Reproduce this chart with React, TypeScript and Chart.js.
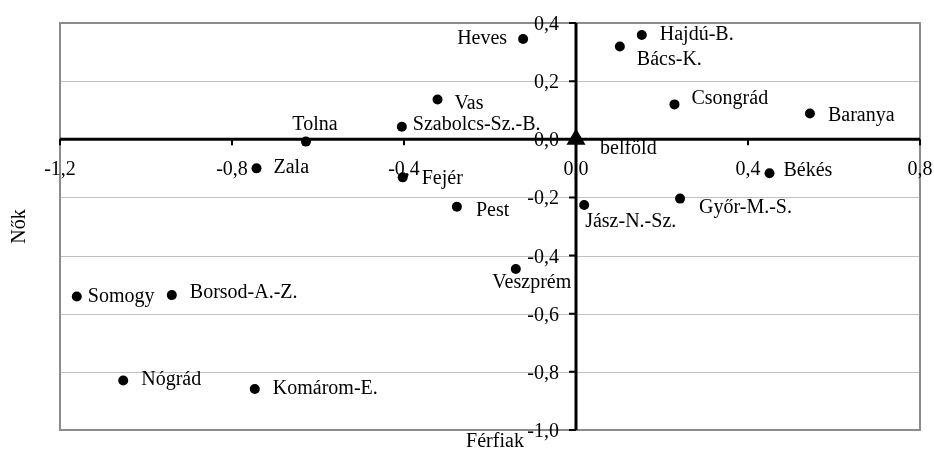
import React, { useEffect, useRef } from 'react';
import { Chart, registerables } from 'chart.js';

Chart.register(...registerables);

// ---- data ----
const regions = [
  'Heves', 'Hajdú-B.', 'Bács-K.', 'Csongrád', 'Baranya', 'Vas', 'Szabolcs-Sz.-B.',
  'Tolna', 'Zala', 'Fejér', 'Pest', 'Veszprém', 'Jász-N.-Sz.', 'Győr-M.-S.', 'Békés',
  'Somogy', 'Borsod-A.-Z.', 'Nógrád', 'Komárom-E.',
];
const ferfiak = [
  -0.123, 0.153, 0.102, 0.229, 0.544, -0.322, -0.405,
  -0.628, -0.743, -0.403, -0.277, -0.140, 0.019, 0.242, 0.450,
  -1.161, -0.940, -1.053, -0.747,
];
const nok = [
  0.345, 0.359, 0.319, 0.120, 0.089, 0.137, 0.043,
  -0.008, -0.100, -0.131, -0.232, -0.446, -0.226, -0.204, -0.117,
  -0.541, -0.536, -0.830, -0.859,
];
const nationalLabel = 'belföld';
const nationalX = [0];
const nationalY = [0];

const xTicks = [-1.2, -0.8, -0.4, 0, 0.4, 0.8];
const yTicks = [0.4, 0.2, 0, -0.2, -0.4, -0.6, -0.8, -1.0];
const xTitle = 'Férfiak';
const yTitle = 'Nők';

// label placement relative to the marker: [dx, dy, align]
const labelPlacement: [number, number, CanvasTextAlign][] = [
  [-16, 0, 'right'], [18, 0, 'left'], [17, 13, 'left'], [17, -6, 'left'], [18, 2, 'left'],
  [17, 4, 'left'], [11, -2, 'left'], [9, -17, 'center'], [17, -1, 'left'], [19, 1, 'left'],
  [19, 4, 'left'], [16, 14, 'center'], [1, 17, 'left'], [19, 9, 'left'], [14, -3, 'left'],
  [11, 0, 'left'], [18, -2, 'left'], [18, -1, 'left'], [18, 0, 'left'],
];
const nationalPlacement: [number, number, CanvasTextAlign] = [24, 9, 'left'];

const FONT = '"Liberation Serif", "Times New Roman", serif';
const fmt = (v: number) => v.toFixed(1).replace('.', ',').replace('-0,0', '0,0');

const axesPlugin = {
  id: 'axesPlugin',
  beforeDatasetsDraw(chart: any) {
    const { ctx, chartArea: a, scales } = chart;
    const xs = scales.x;
    const ys = scales.y;
    ctx.save();
    // grid lines
    ctx.strokeStyle = '#c0c0c0';
    ctx.lineWidth = 1;
    yTicks.forEach((v) => {
      const py = Math.round(ys.getPixelForValue(v)) + 0.5;
      ctx.beginPath();
      ctx.moveTo(a.left, py);
      ctx.lineTo(a.right, py);
      ctx.stroke();
    });
    // plot border
    ctx.strokeStyle = '#8c8c8c';
    ctx.lineWidth = 2;
    ctx.strokeRect(a.left, a.top, a.right - a.left, a.bottom - a.top);
    // zero axes
    const x0 = xs.getPixelForValue(0);
    const y0 = ys.getPixelForValue(0);
    ctx.strokeStyle = '#000';
    ctx.lineWidth = 3;
    ctx.beginPath();
    ctx.moveTo(a.left, y0);
    ctx.lineTo(a.right, y0);
    ctx.moveTo(x0, a.top);
    ctx.lineTo(x0, a.bottom);
    ctx.stroke();
    // tick marks
    ctx.lineWidth = 2;
    ctx.beginPath();
    xTicks.forEach((v) => {
      const px = xs.getPixelForValue(v);
      ctx.moveTo(px, y0);
      ctx.lineTo(px, y0 + 6);
    });
    yTicks.forEach((v) => {
      const py = ys.getPixelForValue(v);
      ctx.moveTo(x0, py);
      ctx.lineTo(x0 - 7, py);
    });
    ctx.stroke();
    ctx.restore();
  },
  afterDatasetsDraw(chart: any) {
    const { ctx, chartArea: a, scales } = chart;
    const xs = scales.x;
    const ys = scales.y;
    const x0 = xs.getPixelForValue(0);
    const y0 = ys.getPixelForValue(0);
    ctx.save();
    ctx.fillStyle = '#000';
    // tick labels
    ctx.font = `20px ${FONT}`;
    ctx.textBaseline = 'alphabetic';
    ctx.textAlign = 'center';
    xTicks.forEach((v) => {
      ctx.fillText(fmt(v), xs.getPixelForValue(v), y0 + 36);
    });
    ctx.textAlign = 'right';
    yTicks.forEach((v) => {
      ctx.fillText(fmt(v), x0 - 17, ys.getPixelForValue(v) + 7);
    });
    // axis titles
    ctx.textAlign = 'center';
    ctx.fillText(xTitle, (a.left + a.right) / 2 + 5, a.bottom + 17);
    ctx.save();
    ctx.translate(25, (a.top + a.bottom) / 2);
    ctx.rotate(-Math.PI / 2);
    ctx.fillText(yTitle, 0, 0);
    ctx.restore();
    // point labels
    ctx.font = `20px ${FONT}`;
    ctx.textBaseline = 'middle';
    regions.forEach((name, i) => {
      const [dx, dy, align] = labelPlacement[i];
      ctx.textAlign = align;
      ctx.fillText(name, xs.getPixelForValue(ferfiak[i]) + dx, ys.getPixelForValue(nok[i]) + dy);
    });
    const [ndx, ndy, nal] = nationalPlacement;
    ctx.textAlign = nal;
    ctx.fillText(nationalLabel, xs.getPixelForValue(nationalX[0]) + ndx, ys.getPixelForValue(nationalY[0]) + ndy);
    ctx.restore();
  },
};

export default function App() {
  const ref = useRef<HTMLCanvasElement | null>(null);
  useEffect(() => {
    document.body.style.margin = '0';
    const canvas = ref.current;
    if (!canvas) return;
    const chart = new Chart(canvas, {
      type: 'scatter',
      data: {
        datasets: [
          {
            label: 'Megyék',
            data: ferfiak.map((x, i) => ({ x, y: nok[i] })),
            pointStyle: 'circle',
            pointRadius: 5,
            pointBorderWidth: 0,
            pointBackgroundColor: '#000',
            pointBorderColor: '#000',
          },
          {
            label: nationalLabel,
            data: nationalX.map((x, i) => ({ x, y: nationalY[i] })),
            pointStyle: 'triangle',
            pointRadius: 11,
            pointBorderWidth: 0,
            pointBackgroundColor: '#000',
            pointBorderColor: '#000',
          },
        ],
      },
      options: {
        animation: false,
        responsive: false,
        layout: { padding: { left: 60, top: 23, right: 14, bottom: 20 } },
        scales: {
          x: { type: 'linear', min: -1.2, max: 0.8, display: false },
          y: { type: 'linear', min: -1.0, max: 0.4, display: false },
        },
        plugins: {
          legend: { display: false },
          tooltip: { enabled: false },
        },
      },
      plugins: [axesPlugin],
    });
    return () => chart.destroy();
  }, []);
  return (
    <div style={{ width: 934, height: 450 }}>
      <canvas ref={ref} width={934} height={450} style={{ display: 'block' }} />
    </div>
  );
}
